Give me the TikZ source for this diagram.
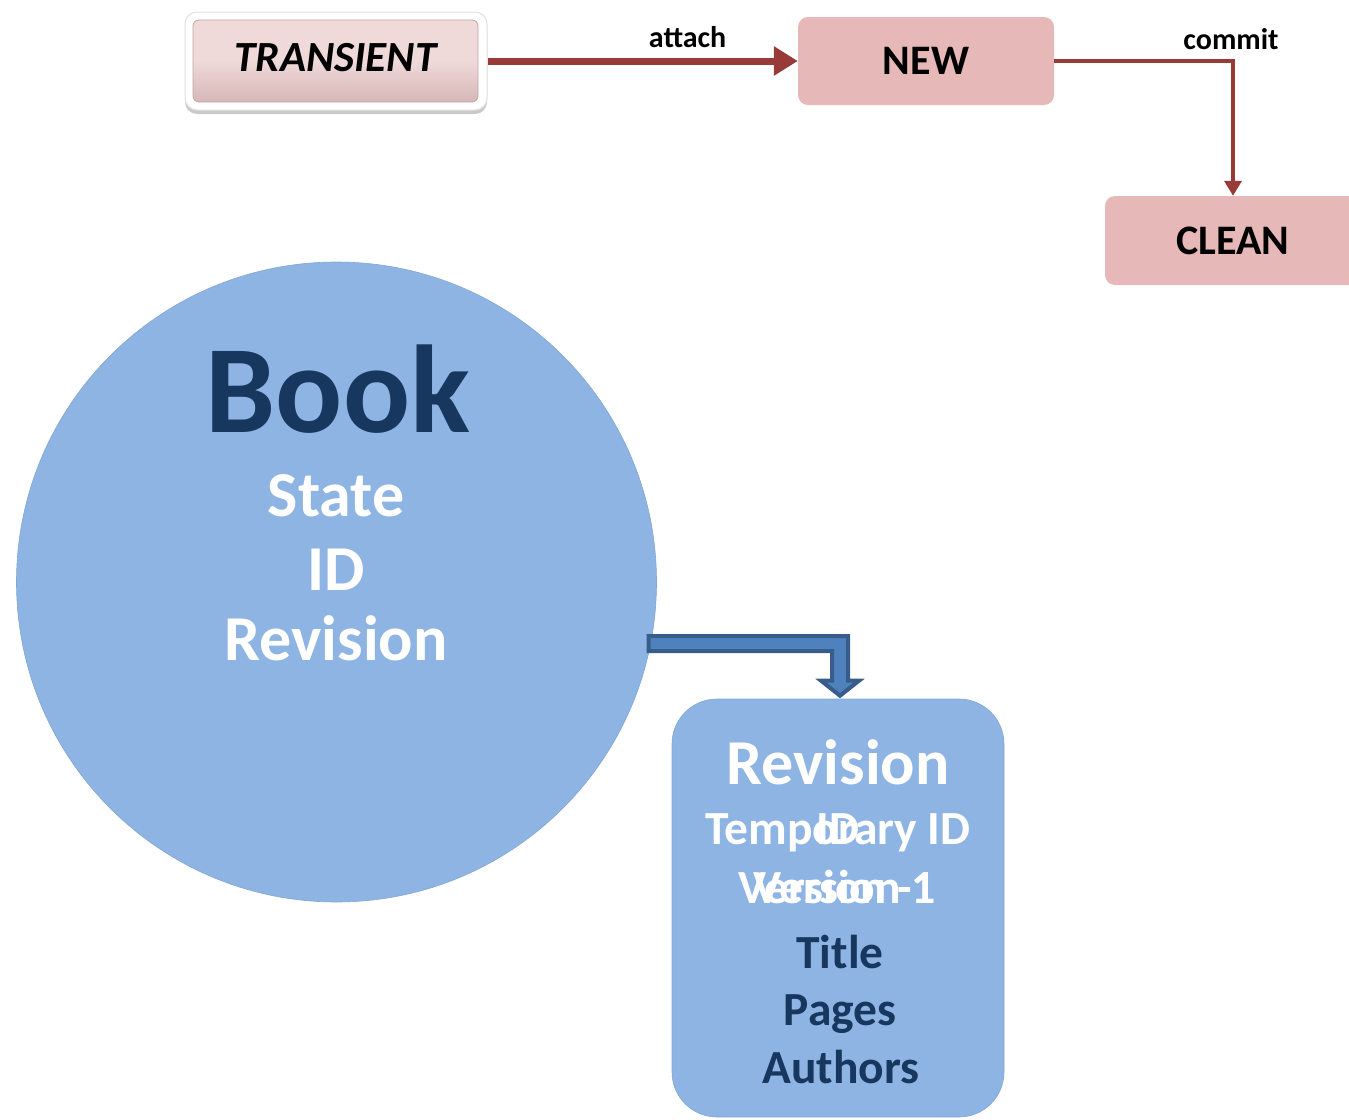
\documentclass[tikz,border=0pt]{standalone}
\usepackage{fontspec}
\setmainfont{Carlito}
\usetikzlibrary{arrows.meta,shadows,calc}
\definecolor{pinkbox}{HTML}{E6B8B7}
\definecolor{pinkin}{HTML}{EFD9D9}
\definecolor{pinkinbot}{HTML}{D7B7B7}
\definecolor{redline}{HTML}{983A38}
\definecolor{bluefill}{HTML}{8EB4E3}
\definecolor{bluearr}{HTML}{4F81BD}
\definecolor{bluearrd}{HTML}{385D8A}
\definecolor{darktxt}{HTML}{17375E}
\tikzset{
  statebox/.style={fill=pinkbox, rounded corners=10pt, minimum width=256pt, minimum height=88pt, inner sep=0pt, font=\bfseries\fontsize{42}{46}\selectfont},
  transouter/.style={fill=white, draw=black!12, line width=1pt, rounded corners=12pt, minimum width=302pt, minimum height=98pt, inner sep=0pt,
     drop shadow={shadow xshift=0pt, shadow yshift=-4pt, opacity=0.35, fill=black!60}},
  transinner/.style={top color=pinkin, bottom color=pinkinbot, middle color=pinkin, draw=pinkinbot!90!black, line width=0.8pt, rounded corners=6pt, minimum width=285pt, minimum height=82pt, inner sep=0pt, font=\bfseries\itshape\fontsize{43}{46}\selectfont},
  lbl/.style={font=\bfseries\fontsize{30}{33}\selectfont, inner sep=0pt},
  attacharrow/.style={draw=redline, line width=7pt, -{Triangle[length=24pt 0 0, width=28pt 0 0]}},
  commitarrow/.style={draw=redline, line width=3.5pt, -{Triangle[length=15pt 0 0, width=17pt 0 0]}},
  bluearrow/.style={fill=bluearr, draw=bluearrd, line width=4pt, line join=miter},
  bigtxt/.style={text=darktxt, font=\bfseries\fontsize{125}{130}\selectfont, inner sep=0pt},
  whtxt/.style={text=white, font=\bfseries\fontsize{64}{68}\selectfont, inner sep=0pt},
  smwh/.style={text=white, font=\bfseries\fontsize{47.5}{52}\selectfont, inner sep=0pt},
  smdk/.style={text=darktxt, font=\bfseries\fontsize{47.5}{52}\selectfont, inner sep=0pt}
}
\begin{document}
\begin{tikzpicture}[x=1pt,y=-1pt]
\useasboundingbox (0,0) rectangle (1349,1119);
% top state machine
\node[transouter] (tout) at (336,61) {};
\node[transinner] (trans) at (335.5,61) {\raisebox{7pt}{TRANSIENT}};
\node[statebox] (new) at (926,61) {NEW};
\node[statebox, minimum height=89pt] (clean) at (1233,240.5) {CLEAN};
\draw[attacharrow] (tout.east) -- (new.west) node[lbl, pos=0.645, yshift=24pt] (attachlbl) {attach};
\draw[commitarrow] (new.east) -| (clean.north) node[lbl, pos=0.5, yshift=22pt, xshift=-2pt] (commitlbl) {commit};
% book circle
\node[circle, fill=bluefill, draw=bluefill!92!black, line width=0.6pt, minimum size=640pt, inner sep=0pt] (book) at (336.5,582) {};
\node[bigtxt, anchor=base] (booklbl) at (338,432) {Book};
\node[whtxt, anchor=base] (statelbl) at (336,516) {State};
\node[whtxt, anchor=base] (idlbl) at (336,590) {ID};
\node[whtxt, anchor=base] (revlbl) at (336,660) {Revision};
% revision box
\node[fill=bluefill, draw=bluefill!92!black, line width=0.6pt, rounded corners=45pt, minimum width=332pt, minimum height=418pt, inner sep=0pt] (rev) at (838,908) {};
\node[whtxt, anchor=base] (revtitle) at (838,784) {Revision};
\node[smwh, anchor=base] (tmpid) at (838,844) {Temporary ID};
\node[smwh, anchor=base] (idov) at (838,844) {ID};
\node[smwh, anchor=base east] (vera) at (936,903) {Version 1};
\node[smwh, anchor=base east] (verb) at (936,903) {Version -1};
\node[smdk, anchor=base] (titlelbl) at (840,968) {Title};
\node[smdk, anchor=base] (pageslbl) at (840,1025) {Pages};
\node[smdk, anchor=base] (authlbl) at (841,1083) {Authors};
% blue connector arrow
\coordinate (bk) at ($(book.center)+(312,61.5)$);
\coordinate (tip) at ($(rev.north)+(2,-3)$);
\filldraw[bluearrow] ($(bk)+(0,-7.5)$) -- ($(tip |- bk)+(8,-7.5)$) -- ($(tip)+(8,-15)$) -- ($(tip)+(19,-15)$) -- (tip) -- ($(tip)+(-19,-15)$) -- ($(tip)+(-8,-15)$) -- ($(tip |- bk)+(-8,7.5)$) -- ($(bk)+(0,7.5)$) -- cycle;
\end{tikzpicture}
\end{document}
